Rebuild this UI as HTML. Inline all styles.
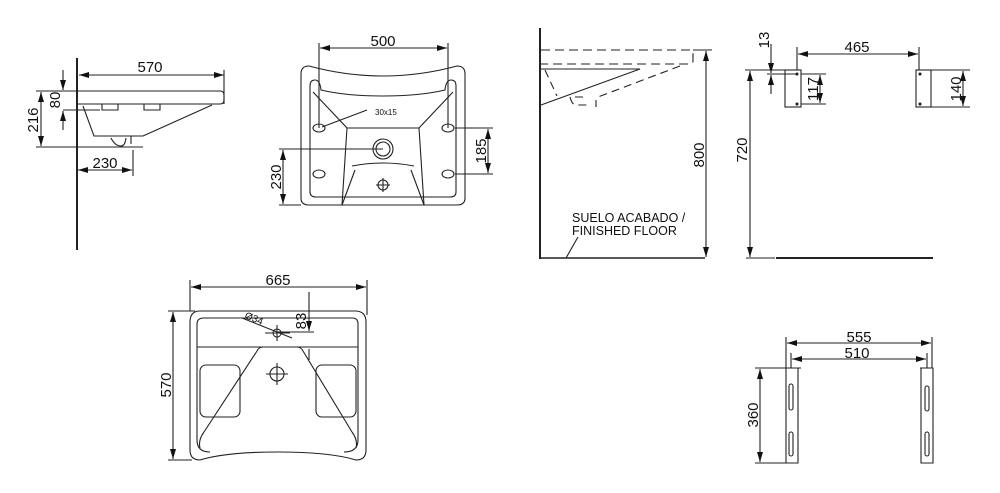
<!DOCTYPE html>
<html><head><meta charset="utf-8"><style>
html,body{margin:0;padding:0;background:#fff}
svg{display:block}
text{font-family:"Liberation Sans",Arial,sans-serif;fill:#111}
</style></head><body>
<svg width="1000" height="493" viewBox="0 0 1000 493" xmlns="http://www.w3.org/2000/svg">
<defs>
<marker id="a" viewBox="0 0 10 6" refX="10" refY="3" markerWidth="10" markerHeight="6" orient="auto-start-reverse" markerUnits="userSpaceOnUse"><path d="M0,0L10,3L0,6z" fill="#111"/></marker>
</defs>
<g stroke="#222" stroke-width="1.1" fill="none">
<!-- Drawing 1 side view -->
<line x1="77" y1="58" x2="77" y2="250" stroke-width="2"/>
<line x1="79" y1="75" x2="224" y2="75" marker-start="url(#a)" marker-end="url(#a)"/>
<line x1="224" y1="70" x2="224" y2="104"/>
<path d="M78,91H220Q224,91 224,95V100Q224,104 220,104H78"/>
<path d="M83,106L94,136H143L212,105"/>
<path d="M102,104v6h16v-6M144,104v6h16v-6"/>
<path d="M111,138q4,8 10,8q4,0 5,-8M131,136v8"/>
<line x1="36" y1="91" x2="78" y2="91"/>
<line x1="36" y1="147" x2="143" y2="147"/>
<line x1="41" y1="92" x2="41" y2="146" marker-start="url(#a)" marker-end="url(#a)"/>
<line x1="63" y1="110" x2="100" y2="110"/>
<line x1="63" y1="70" x2="63" y2="90" marker-end="url(#a)"/>
<line x1="63" y1="130" x2="63" y2="111" marker-end="url(#a)"/>
<line x1="78" y1="170" x2="132" y2="170" marker-start="url(#a)" marker-end="url(#a)"/>
<line x1="133" y1="150" x2="133" y2="176"/>

<!-- Drawing 2 -->
<path d="M309,66Q301,66 301,74V198Q301,205 309,205H457Q465,205 465,198V74Q465,66 457,66Q420,76 383,76Q346,76 309,66Z"/>
<path d="M315,80Q310,80 310,86V192Q310,197 316,197H450Q456,197 456,192V86Q456,80 451,80Q446,80 445,90Q420,96 383,96Q346,96 321,90Q320,80 315,80Z"/>
<path d="M313,92L347,128L342,205M453,92L419,128L424,205"/>
<path d="M347,128H419M352,166Q383,160 414,166"/>
<path d="M342,205L355,170M424,205L411,170"/>
<ellipse cx="319" cy="128" rx="6" ry="4"/><ellipse cx="448" cy="128" rx="6" ry="4"/>
<ellipse cx="319" cy="174" rx="6" ry="4"/><ellipse cx="448" cy="174" rx="6" ry="4"/>
<circle cx="383" cy="149" r="10"/><circle cx="383" cy="149" r="7"/>
<circle cx="383" cy="185" r="5"/><path d="M383,178v14M376,185h14"/>
<line x1="319" y1="43" x2="319" y2="128"/><line x1="448" y1="43" x2="448" y2="128"/>
<line x1="320" y1="48" x2="447" y2="48" marker-start="url(#a)" marker-end="url(#a)"/>
<line x1="455" y1="128" x2="493" y2="128"/><line x1="455" y1="174" x2="493" y2="174"/>
<line x1="488" y1="129" x2="488" y2="173" marker-start="url(#a)" marker-end="url(#a)"/>
<line x1="279" y1="149" x2="383" y2="149"/><line x1="279" y1="205" x2="301" y2="205"/>
<line x1="283" y1="150" x2="283" y2="204" marker-start="url(#a)" marker-end="url(#a)"/>
<line x1="322" y1="127" x2="367" y2="110"/>

<!-- Drawing 3 top view -->
<path d="M200,311H355Q366,311 366,322V450Q366,460 356,460Q330,452 278,452Q226,452 200,460Q190,460 190,450V322Q190,311 200,311Z"/>
<path d="M204,318H352Q358,318 358,324V440Q358,452 344,452M204,318Q197,318 197,324V440Q197,452 210,452"/>
<line x1="197" y1="347" x2="358" y2="347"/>
<path d="M263,347H297Q301,347 303,351L352,432M263,347Q259,347 257,351L204,432"/>
<path d="M204,432Q198,440 200,448M352,432Q358,440 356,448"/>
<rect x="200" y="365" width="40" height="52" rx="6"/>
<rect x="316" y="365" width="40" height="52" rx="6"/>
<circle cx="277" cy="333" r="4"/><path d="M265,333h25M277,325v16"/>
<circle cx="277" cy="374" r="7"/><path d="M266,374h22M277,363v22"/>
<line x1="242" y1="318" x2="292" y2="338"/>
<line x1="190" y1="280" x2="190" y2="311"/><line x1="367" y1="280" x2="367" y2="315"/>
<line x1="191" y1="287" x2="366" y2="287" marker-start="url(#a)" marker-end="url(#a)"/>
<line x1="168" y1="311" x2="195" y2="311"/><line x1="168" y1="460" x2="192" y2="460"/>
<line x1="173" y1="312" x2="173" y2="459" marker-start="url(#a)" marker-end="url(#a)"/>
<line x1="278" y1="332" x2="314" y2="332"/><line x1="309" y1="292" x2="309" y2="331" marker-end="url(#a)"/>
<line x1="309" y1="349" x2="309" y2="360"/>

<!-- Drawing 4 -->
<line x1="540" y1="28" x2="540" y2="259" stroke-width="2"/>
<line x1="540" y1="258" x2="705" y2="258" stroke-width="1.5"/>
<path d="M541,50H690Q693,50 693,54V61Q693,64 689,64H541" stroke-dasharray="9,5"/>
<path d="M541,69H640L541,105"/>
<path d="M545,70L557,96M680,66L598,97M583,97H570Q572,105 576,105H590M596,100V107" stroke-dasharray="8,5"/>
<line x1="706" y1="51" x2="706" y2="257" marker-start="url(#a)" marker-end="url(#a)"/>
<line x1="693" y1="50" x2="712" y2="50"/>
<line x1="566" y1="258" x2="578" y2="237"/>

<!-- Drawing 5 -->
<line x1="745" y1="70" x2="796" y2="70"/>
<line x1="750" y1="71" x2="750" y2="257" marker-start="url(#a)" marker-end="url(#a)"/>
<line x1="746" y1="258" x2="775" y2="258"/>
<line x1="776" y1="258" x2="933" y2="258" stroke-width="2"/>
<rect x="785" y="70" width="16" height="37"/>
<rect x="916" y="70" width="15" height="37"/>
<circle cx="797" cy="74" r="1" fill="#222"/><circle cx="797" cy="104" r="1" fill="#222"/>
<circle cx="920" cy="74" r="1" fill="#222"/><circle cx="920" cy="104" r="1" fill="#222"/>
<line x1="797" y1="47" x2="797" y2="70"/><line x1="919" y1="47" x2="919" y2="70"/>
<line x1="798" y1="54" x2="918" y2="54" marker-start="url(#a)" marker-end="url(#a)"/>
<line x1="767" y1="74" x2="797" y2="74"/>
<line x1="771" y1="44" x2="771" y2="73" marker-end="url(#a)"/>
<line x1="771" y1="94" x2="771" y2="75" marker-end="url(#a)"/>
<line x1="801" y1="74" x2="826" y2="74"/><line x1="801" y1="104" x2="826" y2="104"/>
<line x1="820" y1="75" x2="820" y2="103" marker-start="url(#a)" marker-end="url(#a)"/>
<line x1="931" y1="70" x2="970" y2="70"/><line x1="931" y1="107" x2="970" y2="107"/>
<line x1="963" y1="71" x2="963" y2="106" marker-start="url(#a)" marker-end="url(#a)"/>

<!-- Drawing 6 -->
<line x1="786" y1="337" x2="786" y2="368"/><line x1="932" y1="337" x2="932" y2="368"/>
<line x1="787" y1="343" x2="931" y2="343" marker-start="url(#a)" marker-end="url(#a)"/>
<line x1="791" y1="353" x2="791" y2="368"/><line x1="927" y1="353" x2="927" y2="368"/>
<line x1="792" y1="359" x2="926" y2="359" marker-start="url(#a)" marker-end="url(#a)"/>
<path d="M755,368H801M786,368V463H798V368"/>
<path d="M920,368H933V463H921V368"/>
<rect x="789" y="384" width="4" height="26" rx="2"/><rect x="789" y="432" width="4" height="24" rx="2"/>
<rect x="925" y="386" width="4" height="25" rx="2"/><rect x="925" y="432" width="4" height="24" rx="2"/>
<line x1="755" y1="463" x2="786" y2="463"/>
<line x1="760" y1="369" x2="760" y2="462" marker-start="url(#a)" marker-end="url(#a)"/>
</g>
<g font-size="15">
<text x="150" y="72" text-anchor="middle">570</text>
<text x="105" y="168" text-anchor="middle">230</text>
<text transform="translate(38,120) rotate(-90)" text-anchor="middle">216</text>
<text transform="translate(60,100) rotate(-90)" text-anchor="middle">80</text>
<text x="383" y="46" text-anchor="middle">500</text>
<text transform="translate(486,151) rotate(-90)" text-anchor="middle">185</text>
<text transform="translate(281,177) rotate(-90)" text-anchor="middle">230</text>
<text x="278" y="285" text-anchor="middle">665</text>
<text transform="translate(171,385) rotate(-90)" text-anchor="middle">570</text>
<text transform="translate(306,321) rotate(-90)" text-anchor="middle">83</text>
<text transform="translate(704,155) rotate(-90)" text-anchor="middle">800</text>
<text transform="translate(747,150) rotate(-90)" text-anchor="middle">720</text>
<text x="857" y="52" text-anchor="middle">465</text>
<text transform="translate(769,40) rotate(-90)" text-anchor="middle">13</text>
<text transform="translate(818,89) rotate(-90)" text-anchor="middle">117</text>
<text transform="translate(961,89) rotate(-90)" text-anchor="middle">140</text>
<text x="859" y="342" text-anchor="middle">555</text>
<text x="857" y="358" text-anchor="middle">510</text>
<text transform="translate(758,415) rotate(-90)" text-anchor="middle">360</text>
</g>
<g font-size="12.5">
<text x="572" y="222">SUELO ACABADO /</text>
<text x="572" y="235">FINISHED FLOOR</text>
</g>
<text x="375" y="115" font-size="8">30x15</text>
<text transform="translate(244,318) rotate(22)" font-size="10">Ø34</text>
</svg>
</body></html>
